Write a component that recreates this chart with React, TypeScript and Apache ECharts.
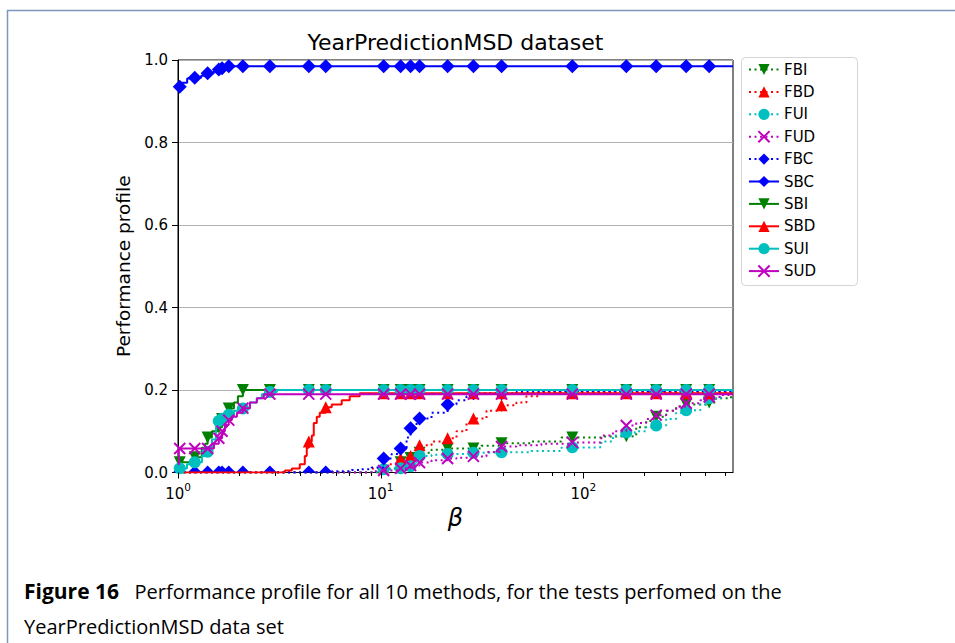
import React, { useEffect, useRef } from "react";
import * as echarts from "echarts";

const FONT = "DejaVu Sans";
const CAPTION_FONT = "Open Sans";

const seriesNames = ["FBI", "FBD", "FUI", "FUD", "FBC", "SBC", "SBI", "SBD", "SUI", "SUD"];

// beta values at which markers are drawn (shared by all curves)
const markerBetas = [1.02, 1.21, 1.4, 1.59, 1.65, 1.78, 2.09, 2.84, 4.42, 5.36, 10.35, 12.55, 14.05, 15.56, 21.4, 28.7, 39.5, 88.3, 163, 229, 322, 418];

const majorTicks = [1, 10, 100];
const minorTicks = [2, 3, 4, 5, 6, 7, 8, 9, 20, 30, 40, 50, 60, 70, 80, 90, 200, 300, 400, 500];

const FBI = [[1, 0], [10.7, 0.01], [11.99, 0.02], [12.55, 0.025], [13.43, 0.03], [14.05, 0.035], [15.04, 0.042], [15.56, 0.048], [17.83, 0.055], [21.4, 0.058], [28.7, 0.058], [31.44, 0.065], [39.5, 0.071], [55.43, 0.075], [77.9, 0.085], [88.3, 0.085], [122.7, 0.087], [163, 0.088], [182.4, 0.11], [204.3, 0.125], [229, 0.135], [256.4, 0.15], [287.2, 0.16], [322, 0.165], [418, 0.17], [452, 0.18], [536, 0.187], [548, 0.187]];
const FBD = [[1, 0], [9.03, 0.01], [10.35, 0.012], [10.7, 0.02], [11.99, 0.03], [12.55, 0.034], [13.43, 0.038], [14.05, 0.04], [15.04, 0.055], [15.56, 0.066], [17.83, 0.075], [21.4, 0.083], [23.68, 0.1], [26.52, 0.12], [28.7, 0.131], [33.29, 0.15], [39.5, 0.163], [46.77, 0.17], [52.39, 0.185], [60.01, 0.195], [88.3, 0.195], [163, 0.195], [229, 0.195], [322, 0.195], [418, 0.195], [548, 0.195]];
const FUI = [[1, 0], [9.56, 0.005], [10.35, 0.008], [12.55, 0.01], [14.05, 0.015], [15.04, 0.03], [15.56, 0.04], [17.83, 0.043], [21.4, 0.045], [28.7, 0.048], [33.29, 0.049], [39.5, 0.049], [55.43, 0.052], [77.9, 0.06], [88.3, 0.061], [122.7, 0.075], [140, 0.09], [163, 0.097], [182.4, 0.1], [204.3, 0.11], [229, 0.114], [256.4, 0.13], [287.2, 0.145], [322, 0.151], [378, 0.165], [418, 0.18], [478, 0.19], [536, 0.195], [548, 0.195]];
const FUD = [[1, 0], [9.03, 0.003], [10.35, 0.005], [12.55, 0.01], [14.05, 0.017], [15.56, 0.024], [17.83, 0.03], [21.4, 0.034], [23.68, 0.036], [28.7, 0.039], [33.29, 0.05], [39.5, 0.063], [46.77, 0.066], [62.09, 0.07], [88.3, 0.073], [122.7, 0.09], [140, 0.1], [163, 0.114], [182.4, 0.12], [204.3, 0.13], [229, 0.139], [256.4, 0.15], [287.2, 0.16], [322, 0.168], [378, 0.175], [418, 0.183], [478, 0.188], [536, 0.19], [548, 0.19]];
const FBC = [[1, 0], [1.02, 0], [1.21, 0], [1.4, 0], [1.59, 0], [1.65, 0], [1.78, 0], [2.09, 0], [2.84, 0], [4.42, 0], [5.36, 0], [5.74, 0.003], [7.2, 0.006], [8.06, 0.008], [9.03, 0.012], [10.35, 0.034], [11.33, 0.045], [12.55, 0.058], [13.43, 0.085], [14.05, 0.107], [15.04, 0.12], [15.56, 0.131], [17.83, 0.145], [21.4, 0.165], [23.68, 0.175], [26.52, 0.185], [28.7, 0.192], [39.5, 0.192], [46.77, 0.195], [62.09, 0.197], [88.3, 0.197], [163, 0.197], [229, 0.197], [322, 0.197], [418, 0.197], [548, 0.197]];
const SBC = [[1, 0.93], [1.02, 0.935], [1.05, 0.945], [1.11, 0.955], [1.21, 0.957], [1.3, 0.962], [1.4, 0.968], [1.5, 0.972], [1.59, 0.977], [1.65, 0.98], [1.78, 0.985], [2.09, 0.985], [2.84, 0.985], [4.42, 0.985], [5.36, 0.985], [10.35, 0.985], [12.55, 0.985], [14.05, 0.985], [15.56, 0.985], [21.4, 0.985], [28.7, 0.985], [39.5, 0.985], [88.3, 0.985], [163, 0.985], [229, 0.985], [322, 0.985], [418, 0.985], [548, 0.985]];
const SBI = [[1, 0.025], [1.02, 0.025], [1.17, 0.03], [1.21, 0.037], [1.31, 0.06], [1.36, 0.07], [1.4, 0.085], [1.47, 0.1], [1.59, 0.11], [1.65, 0.13], [1.704, 0.145], [1.78, 0.155], [1.888, 0.17], [1.975, 0.185], [2.09, 0.2], [2.84, 0.2], [4.42, 0.2], [5.36, 0.2], [10.35, 0.2], [12.55, 0.2], [14.05, 0.2], [15.56, 0.2], [21.4, 0.2], [28.7, 0.2], [39.5, 0.2], [88.3, 0.2], [163, 0.2], [229, 0.2], [322, 0.2], [418, 0.2], [548, 0.2]];
const SBD = [[1, 0], [3.366, 0.005], [3.645, 0.01], [3.99, 0.02], [4.224, 0.04], [4.32, 0.06], [4.42, 0.075], [4.573, 0.09], [4.677, 0.12], [4.839, 0.135], [5.006, 0.145], [5.36, 0.158], [5.737, 0.165], [6.426, 0.175], [7.036, 0.185], [7.882, 0.192], [10.35, 0.192], [12.55, 0.192], [14.05, 0.192], [15.56, 0.192], [21.4, 0.192], [28.7, 0.192], [39.5, 0.192], [88.3, 0.192], [163, 0.192], [229, 0.192], [322, 0.192], [418, 0.192], [548, 0.192]];
const SUI = [[1, 0.005], [1.02, 0.01], [1.107, 0.02], [1.21, 0.025], [1.313, 0.04], [1.4, 0.05], [1.471, 0.08], [1.539, 0.11], [1.59, 0.125], [1.65, 0.13], [1.78, 0.14], [1.888, 0.15], [2.09, 0.155], [2.263, 0.17], [2.45, 0.18], [2.593, 0.19], [2.84, 0.195], [3.074, 0.2], [4.42, 0.2], [5.36, 0.2], [10.35, 0.2], [12.55, 0.2], [14.05, 0.2], [15.56, 0.2], [21.4, 0.2], [28.7, 0.2], [39.5, 0.2], [88.3, 0.2], [163, 0.2], [229, 0.2], [322, 0.2], [418, 0.2], [548, 0.2]];
const SUD = [[1, 0.02], [1.01, 0.058], [1.02, 0.058], [1.21, 0.058], [1.4, 0.058], [1.504, 0.07], [1.59, 0.083], [1.65, 0.1], [1.704, 0.115], [1.78, 0.127], [1.845, 0.135], [1.953, 0.145], [2.09, 0.156], [2.263, 0.17], [2.45, 0.18], [2.652, 0.19], [2.84, 0.19], [4.42, 0.19], [5.36, 0.19], [10.35, 0.19], [12.55, 0.19], [14.05, 0.19], [15.56, 0.19], [21.4, 0.19], [28.7, 0.19], [39.5, 0.19], [88.3, 0.19], [163, 0.19], [229, 0.19], [322, 0.19], [418, 0.19], [548, 0.19]];

const curves: Record<string, number[][]> = { FBI, FBD, FUI, FUD, FBC, SBC, SBI, SBD, SUI, SUD };

const X_SYMBOL = "path://M0,0L10,10M10,0L0,10";
const GREEN = "#008000", RED = "#ff0000", CYAN = "#00bfbf", MAGENTA = "#bf00bf", BLUE = "#0000ff";

const looks: Record<string, any> = {
  FBI: { color: GREEN, dotted: true, symbol: "triangle", rotate: 180, size: 12 },
  FBD: { color: RED, dotted: true, symbol: "triangle", rotate: 0, size: 12 },
  FUI: { color: CYAN, dotted: true, symbol: "circle", rotate: 0, size: 12 },
  FUD: { color: MAGENTA, dotted: true, symbol: X_SYMBOL, rotate: 0, size: 11, stroke: true },
  FBC: { color: BLUE, dotted: true, symbol: "diamond", rotate: 0, size: 14 },
  SBC: { color: BLUE, dotted: false, symbol: "diamond", rotate: 0, size: 14 },
  SBI: { color: GREEN, dotted: false, symbol: "triangle", rotate: 180, size: 12 },
  SBD: { color: RED, dotted: false, symbol: "triangle", rotate: 0, size: 12 },
  SUI: { color: CYAN, dotted: false, symbol: "circle", rotate: 0, size: 12 },
  SUD: { color: MAGENTA, dotted: false, symbol: X_SYMBOL, rotate: 0, size: 11, stroke: true },
};

const isMarker = (b: number) => markerBetas.some((m) => Math.abs(m - b) < 1e-9);

function buildSeries() {
  return seriesNames.map((name, i) => {
    const lk = looks[name];
    const data = curves[name].map(([b, r]) => {
      if (!isMarker(b)) return { value: [b, r], symbol: "none" };
      if (r === 0) {
        // markers sitting on the x axis are clipped to their upper half
        if (name === "FBC")
          return { value: [b, r], symbol: "triangle", symbolSize: [14, 7], symbolOffset: [0, -3.5], symbolRotate: 0 };
        return { value: [b, r], symbol: "none" };
      }
      return { value: [b, r] };
    });
    return {
      name,
      type: "line",
      step: "end",
      data,
      symbol: lk.symbol,
      symbolSize: lk.size,
      symbolRotate: lk.rotate,
      showSymbol: true,
      clip: true,
      z: 3 + i,
      lineStyle: { color: lk.color, width: 2, type: lk.dotted ? [2, 3.5] : "solid" },
      itemStyle: lk.stroke
        ? { color: lk.color, borderColor: lk.color, borderWidth: 2 }
        : { color: lk.color, borderColor: lk.color, borderWidth: 0 },
      emphasis: { disabled: true },
    };
  });
}

function tickSeries(values: number[], len: number) {
  return {
    type: "custom",
    silent: true,
    clip: false,
    z: 20,
    data: values.map((v) => [v, 0]),
    encode: { x: 0, y: 1 },
    renderItem: (_p: any, api: any) => {
      const p = api.coord([api.value(0), 0]);
      const x = Math.round(p[0]) + 0.5;
      return {
        type: "line",
        shape: { x1: x, y1: p[1], x2: x, y2: p[1] + len },
        style: { stroke: "#000", lineWidth: 1 },
      };
    },
  };
}

export default function App() {
  const ref = useRef<HTMLDivElement>(null);
  useEffect(() => {
    const chart = echarts.init(ref.current!, null, { renderer: "svg" });
    const option: any = {
      animation: false,
      backgroundColor: "#fff",
      grid: {
        left: 178,
        right: 222,
        top: 60,
        bottom: 170.5,
        show: true,
        borderColor: "#000",
        borderWidth: 1,
        backgroundColor: "transparent",
        containLabel: false,
      },
      xAxis: {
        type: "log",
        logBase: 10,
        min: 1,
        max: 548,
        name: "β",
        nameLocation: "middle",
        nameGap: 26,
        nameTextStyle: { fontFamily: FONT, fontSize: 24, fontStyle: "italic", color: "#000", lineHeight: 24 },
        axisLine: { show: true, onZero: false, lineStyle: { color: "#000", width: 1 } },
        axisTick: { show: false },
        splitLine: { show: false },
        axisLabel: {
          margin: 9,
          showMaxLabel: false,
          formatter: (v: number) => `{b|10}{s|${Math.round(Math.log10(v))}}`,
          rich: {
            b: { fontFamily: FONT, fontSize: 15, color: "#000", lineHeight: 20, verticalAlign: "bottom" },
            s: { fontFamily: FONT, fontSize: 10.5, color: "#000", lineHeight: 11, verticalAlign: "top" },
          },
        },
      },
      yAxis: {
        type: "value",
        min: 0,
        max: 1,
        interval: 0.2,
        name: "Performance profile",
        nameLocation: "middle",
        nameGap: 43,
        nameTextStyle: { fontFamily: FONT, fontSize: 18.5, color: "#000" },
        axisLine: { show: true, lineStyle: { color: "#000", width: 1 } },
        axisTick: { show: true, length: 6, lineStyle: { color: "#000", width: 1 } },
        splitLine: { show: true, lineStyle: { color: "#b0b0b0", width: 1 } },
        axisLabel: {
          margin: 10,
          fontFamily: FONT,
          fontSize: 15,
          color: "#000",
          formatter: (v: number) => v.toFixed(1),
        },
      },
      legend: {
        data: seriesNames,
        orient: "vertical",
        left: 748,
        top: 62,
        padding: 0,
        itemWidth: 30,
        itemHeight: 14,
        itemGap: 7.4,
        selectedMode: false,
        textStyle: { fontFamily: FONT, fontSize: 15, color: "#000", lineHeight: 14 },
      },
      graphic: [
        { type: "line", shape: { x1: 7, y1: 10.5, x2: 955, y2: 10.5 }, style: { stroke: "#7d98ba", lineWidth: 1.5 }, silent: true },
        { type: "line", shape: { x1: 7.5, y1: 10, x2: 7.5, y2: 643 }, style: { stroke: "#7d98ba", lineWidth: 1.5 }, silent: true },
        {
          type: "rect",
          shape: { x: 741.5, y: 57.5, width: 116, height: 228, r: 4 },
          style: { fill: "#fff", stroke: "#d5d5d5", lineWidth: 1 },
          silent: true,
          z: -1,
        },
        {
          type: "text",
          x: 455.5,
          y: 42,
          silent: true,
          style: {
            text: "YearPredictionMSD dataset",
            fontFamily: FONT,
            fontSize: 22,
            fill: "#000",
            align: "center",
            textAlign: "center",
            verticalAlign: "middle",
            textVerticalAlign: "middle",
          },
        },
        {
          type: "text",
          x: 24,
          y: 591,
          silent: true,
          style: {
            text: "{b|Figure 16}   Performance profile for all 10 methods, for the tests perfomed on the",
            fontFamily: CAPTION_FONT,
            fontSize: 20,
            fill: "#000",
            verticalAlign: "middle",
            textVerticalAlign: "middle",
            rich: { b: { fontFamily: CAPTION_FONT, fontSize: 21, fontWeight: "bold", fill: "#000" } },
          },
        },
        {
          type: "text",
          x: 24,
          y: 626,
          silent: true,
          style: {
            text: "YearPredictionMSD data set",
            fontFamily: CAPTION_FONT,
            fontSize: 20,
            fill: "#000",
            verticalAlign: "middle",
            textVerticalAlign: "middle",
          },
        },
      ],
      series: [...buildSeries(), tickSeries(majorTicks, 6), tickSeries(minorTicks, 3.5)],
    };
    chart.setOption(option);
    return () => chart.dispose();
  }, []);
  return (
    <div style={{ position: "absolute", left: 0, top: 0, width: 955, height: 643, background: "#fff" }}>
      <div ref={ref} style={{ width: 955, height: 643 }} />
    </div>
  );
}
